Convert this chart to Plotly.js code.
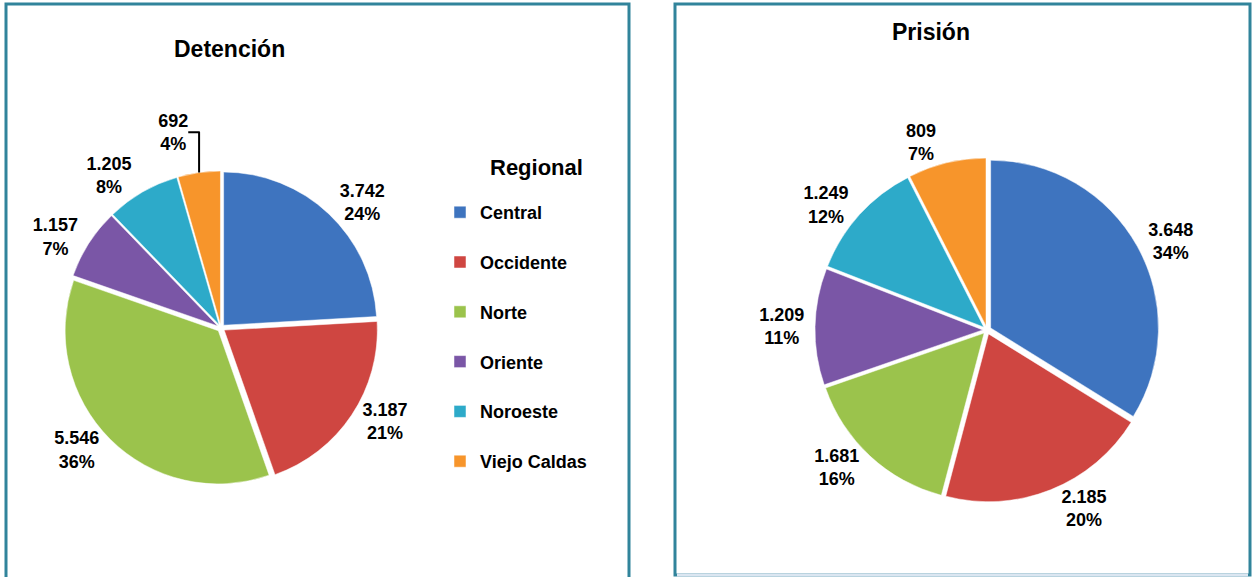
<!DOCTYPE html>
<html>
<head>
<meta charset="utf-8">
<script src="https://cdn.plot.ly/plotly-3.0.1.min.js"></script>
<style>
  html, body { margin: 0; padding: 0; background: #ffffff; }
  #chart { width: 1253px; height: 577px; }
</style>
</head>
<body>
<div id="chart"></div>
<script>
// ---- Data ----
const regions = ["Central", "Occidente", "Norte", "Oriente", "Noroeste", "Viejo Caldas"];
const detencionValues = [3742, 3187, 5546, 1157, 1205, 692];
const detencionPct = ["24%", "21%", "36%", "7%", "8%", "4%"];
const prisionValues = [3648, 2185, 1681, 1209, 1249, 809];
const prisionPct = ["34%", "20%", "16%", "11%", "12%", "7%"];
const titles = ["Detención", "Prisión"];
const legendTitle = "Regional";

// ---- Styling ----
const colors = ["#3E74BF", "#CF4641", "#9BC34C", "#7A56A6", "#2DAAC9", "#F7952B"];
const W = 1253, H = 577;
const teal = "#31849B";
const fontFam = "Liberation Sans, Arial, sans-serif";

// legend entries get an extra blank line for the tall spacing of the reference
const legendLabels = regions.map(r => r + "<br>\u00a0");

function pxX(px) { return px / W; }
function pxY(px) { return 1 - px / H; }

const common = {
  type: "pie",
  labels: legendLabels,
  sort: false,
  direction: "clockwise",
  rotation: 0,
  pull: 0.025,
  textposition: "outside",
  texttemplate: "%{value:,}<br>%{text}",
  textfont: { family: fontFam, size: 18, color: "#000000", weight: "bold" },
  marker: { colors: colors, line: { color: "#ffffff", width: 0.5 } },
  hovertemplate: "%{value:,} (%{text})<extra></extra>",
  automargin: false
};

const trace1 = Object.assign({}, common, {
  values: detencionValues,
  text: detencionPct,
  domain: { x: [pxX(64), pxX(378)], y: [pxY(485), pxY(171)] },
  showlegend: true,
  name: titles[0]
});

const trace2 = Object.assign({}, common, {
  values: prisionValues,
  text: prisionPct,
  domain: { x: [pxX(815), pxX(1159)], y: [pxY(502), pxY(158)] },
  showlegend: false,
  name: titles[1]
});

const layout = {
  width: W,
  height: H,
  margin: { l: 0, r: 0, t: 0, b: 0 },
  paper_bgcolor: "#ffffff",
  plot_bgcolor: "#ffffff",
  separators: ",.",
  font: { family: fontFam, color: "#000000" },
  showlegend: true,
  legend: {
    x: pxX(440),
    y: pxY(194),
    xanchor: "left",
    yanchor: "top",
    valign: "top",
    font: { family: fontFam, size: 18, color: "#000000", weight: "bold" },
    bgcolor: "rgba(0,0,0,0)",
    itemclick: false,
    itemdoubleclick: false
  },
  annotations: [
    { text: titles[0], xref: "paper", yref: "paper", x: pxX(229), y: pxY(49), xanchor: "center", yanchor: "middle",
      showarrow: false, font: { family: fontFam, size: 23, color: "#000000", weight: "bold" } },
    { text: titles[1], xref: "paper", yref: "paper", x: pxX(931), y: pxY(32), xanchor: "center", yanchor: "middle",
      showarrow: false, font: { family: fontFam, size: 23, color: "#000000", weight: "bold" } },
    { text: legendTitle, xref: "paper", yref: "paper", x: pxX(536), y: pxY(167), xanchor: "center", yanchor: "middle",
      showarrow: false, font: { family: fontFam, size: 22, color: "#000000", weight: "bold" } }
  ],
  shapes: [
    { type: "rect", xref: "paper", yref: "paper", x0: pxX(6), x1: pxX(629), y0: -0.02, y1: pxY(4),
      line: { color: teal, width: 3 }, fillcolor: "rgba(0,0,0,0)", layer: "above" },
    { type: "rect", xref: "paper", yref: "paper", x0: pxX(675), x1: pxX(1250), y0: pxY(575), y1: pxY(4),
      line: { color: teal, width: 3 }, fillcolor: "rgba(0,0,0,0)", layer: "above" },
    { type: "line", xref: "paper", yref: "paper", x0: pxX(677), x1: pxX(1248), y0: pxY(575), y1: pxY(575),
      line: { color: "#dbe6f1", width: 3 }, layer: "above" }
  ]
};

Plotly.newPlot("chart", [trace1, trace2], layout, { displayModeBar: false, staticPlot: true });
</script>
</body>
</html>
